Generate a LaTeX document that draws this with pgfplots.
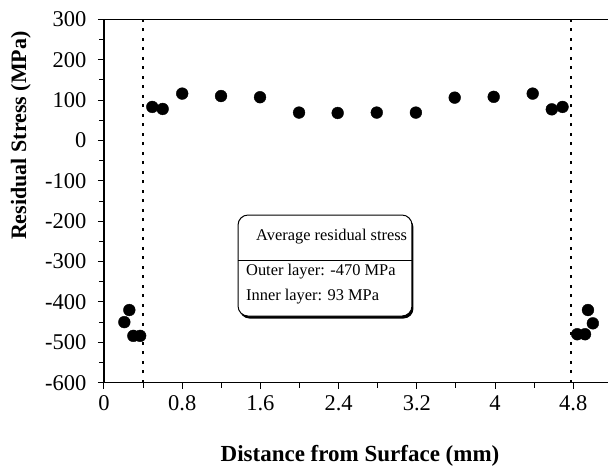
\documentclass[border=0pt]{standalone}
\usepackage{fontspec}
\setmainfont{Liberation Serif}
\usepackage{pgfplots}
\pgfplotsset{compat=1.18}
\usetikzlibrary{shadows}
\begin{document}
\begin{tikzpicture}
\begin{axis}[
  scale only axis, width=504pt, height=363.4pt,
  xmin=0, xmax=5.155, ymin=-600, ymax=300,
  axis x line=box, axis y line=left,
  axis line style={-, line width=1.3pt},
  xtick={0,0.8,1.6,2.4,3.2,4,4.8},
  xticklabels={0,0.8,1.6,2.4,3.2,4,4.8},
  minor x tick num=1,
  ytick={-600,-500,-400,-300,-200,-100,0,100,200,300},
  yticklabels={-600,-500,-400,-300,-200,-100,0,100,200,300},
  minor y tick num=1,
  xtick pos=bottom, ytick pos=left,
  tick align=outside,
  major tick length=6pt, minor tick length=5pt,
  tick style={line width=1pt, black},
  /pgf/number format/assume math mode=true,
  ticklabel style={font=\fontsize{22.5}{24}\selectfont},
  xticklabel style={yshift=-3pt},
  yticklabel style={xshift=-8pt},
  xlabel={Distance from Surface (mm)},
  xlabel style={font=\fontsize{23}{25}\selectfont\bfseries,
    at={(axis description cs:0.508,0)}, anchor=center, yshift=-73pt},
  ylabel={Residual Stress (MPa)},
  ylabel style={font=\fontsize{22}{24}\selectfont\bfseries,
    at={(axis description cs:-0.165,0.68)}, anchor=center},
]
\coordinate (O) at (rel axis cs:0,0);
% boundaries between outer and inner layers
\addplot[black, line width=1.8pt, dash pattern=on 3pt off 6.5pt] coordinates {(0.4,-600) (0.4,300)};
\addplot[black, line width=1.8pt, dash pattern=on 3pt off 6.5pt] coordinates {(4.78,-600) (4.78,300)};
% measured stress
\addplot[only marks, mark=*, mark size=5.9pt, black] coordinates {
  (0.208,-450) (0.259,-420) (0.30,-484) (0.37,-484)
  (0.494,83) (0.60,78) (0.80,116) (1.197,110) (1.596,107)
  (1.995,69) (2.39,68) (2.79,69) (3.19,69)
  (3.587,106) (3.986,108) (4.385,116) (4.58,77) (4.69,83)
  (4.84,-480) (4.92,-480) (4.95,-420) (5.00,-453)
};
% summary box
\draw[rounded corners=10pt, line width=1pt, fill=white,
  drop shadow={shadow xshift=1.5pt, shadow yshift=-2.5pt, opacity=1, fill=black}]
  (axis cs:1.371,-184.7) rectangle (axis cs:3.150,-434.9);
\draw[line width=0.8pt] (axis cs:1.371,-296.2) -- (axis cs:3.150,-296.2);
\node[anchor=west, inner sep=0pt, font=\fontsize{16.4}{18}\selectfont] at (axis cs:1.555,-239.2) {Average residual stress};
\node[anchor=west, inner sep=0pt, font=\fontsize{16.4}{18}\selectfont] at (axis cs:1.452,-325.9) {Outer layer: -470 MPa};
\node[anchor=west, inner sep=0pt, font=\fontsize{16.4}{18}\selectfont] at (axis cs:1.452,-387.8) {Inner layer: 93 MPa};
\end{axis}
\pgfresetboundingbox
\path[use as bounding box] (O) ++(-104pt,-88.3pt) rectangle ++(608pt,471pt);
\end{tikzpicture}
\end{document}
